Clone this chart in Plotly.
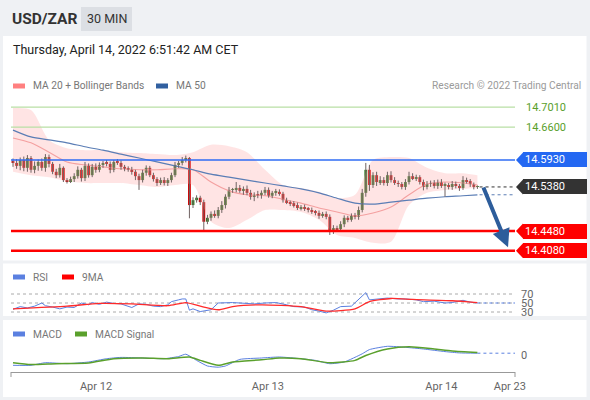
import plotly.graph_objects as go

W, H = 590, 400
FONT = "Roboto, Arial, sans-serif"

# ---------------- data ----------------
first_open = 14.590
close = [
    14.587, 14.581, 14.593, 14.577, 14.597, 14.573, 14.581, 14.589, 14.577, 14.599,
    14.585, 14.569, 14.562, 14.577, 14.552, 14.550, 14.554, 14.560, 14.573, 14.556,
    14.581, 14.562, 14.579, 14.573, 14.583, 14.587, 14.585, 14.573, 14.589, 14.587,
    14.579, 14.575, 14.573, 14.569, 14.560, 14.552, 14.567, 14.577, 14.562, 14.554,
    14.546, 14.552, 14.546, 14.552, 14.562, 14.583, 14.587, 14.593, 14.597, 14.501,
    14.511, 14.516, 14.507, 14.467, 14.475, 14.483, 14.479, 14.491, 14.501, 14.518,
    14.532, 14.532, 14.536, 14.530, 14.534, 14.526, 14.518, 14.522, 14.520, 14.526,
    14.532, 14.520, 14.526, 14.528, 14.524, 14.511, 14.507, 14.505, 14.501, 14.495,
    14.497, 14.493, 14.491, 14.487, 14.485, 14.479, 14.483, 14.477, 14.448, 14.454,
    14.452, 14.462, 14.475, 14.471, 14.479, 14.477, 14.491, 14.526, 14.573, 14.542,
    14.562, 14.548, 14.552, 14.546, 14.562, 14.552, 14.546, 14.544, 14.538, 14.548,
    14.560, 14.556, 14.558, 14.548, 14.538, 14.544, 14.546, 14.540, 14.548, 14.540,
    14.542, 14.538, 14.544, 14.540, 14.536, 14.552, 14.550, 14.544, 14.538, 14.538,
]
# wick lengths above / below the candle body, in thousandths of a rand
wick_up_milli = [
    6, 8, 5, 7, 6, 4, 9, 5, 7, 6,
    5, 4, 6, 8, 3, 4, 5, 6, 7, 4,
    8, 5, 6, 7, 5, 4, 6, 5, 4, 6,
    5, 4, 5, 6, 4, 5, 6, 5, 4, 5,
    4, 5, 6, 4, 5, 6, 4, 6, 5, 2,
    6, 5, 4, 5, 6, 5, 7, 6, 8, 5,
    6, 4, 12, 6, 5, 7, 6, 5, 8, 5,
    6, 5, 4, 6, 5, 4, 5, 3, 4, 5,
    4, 5, 4, 5, 4, 5, 4, 5, 5, 6,
    5, 6, 5, 4, 5, 6, 7, 8, 14, 10,
    6, 7, 8, 6, 7, 8, 6, 5, 4, 6,
    9, 6, 5, 4, 5, 6, 5, 6, 5, 6,
    5, 4, 6, 5, 4, 8, 5, 4, 3, 3,
]
wick_dn_milli = [
    8, 6, 9, 7, 8, 6, 7, 10, 6, 8,
    7, 5, 6, 5, 4, 5, 4, 6, 5, 7,
    6, 5, 4, 6, 5, 6, 5, 7, 5, 4,
    6, 5, 4, 6, 8, 20, 5, 6, 4, 5,
    6, 4, 5, 6, 5, 4, 6, 5, 5, 27,
    6, 5, 6, 20, 5, 6, 4, 5, 6, 7,
    5, 6, 5, 4, 8, 5, 6, 9, 5, 6,
    5, 4, 5, 6, 4, 5, 4, 6, 5, 4,
    5, 4, 5, 4, 5, 6, 4, 5, 8, 6,
    5, 4, 6, 5, 4, 5, 6, 5, 8, 12,
    6, 8, 6, 5, 6, 5, 4, 6, 5, 6,
    5, 4, 6, 5, 7, 5, 6, 5, 6, 4,
    22, 5, 6, 5, 6, 4, 5, 6, 5, 4,
]

band_idx = [0, 5, 10, 15, 20, 25, 30, 35, 40, 45, 50, 55, 60, 65, 70, 75, 80, 85, 90,
            95, 100, 105, 110, 115, 120, 125, 129]
bb_upper = [14.699, 14.695, 14.634, 14.617, 14.613, 14.613, 14.609, 14.607, 14.605, 14.603,
            14.609, 14.624, 14.621, 14.609, 14.573, 14.542, 14.536, 14.528, 14.515, 14.522,
            14.593, 14.599, 14.597, 14.577, 14.566, 14.566, 14.562]
bb_lower = [14.569, 14.562, 14.558, 14.550, 14.546, 14.546, 14.546, 14.542, 14.538, 14.542,
            14.542, 14.467, 14.454, 14.471, 14.491, 14.491, 14.487, 14.471, 14.440, 14.434,
            14.424, 14.426, 14.501, 14.526, 14.532, 14.534, 14.536]
ma20 = [14.638, 14.628, 14.609, 14.589, 14.583, 14.579, 14.575, 14.573, 14.573, 14.575,
        14.573, 14.548, 14.530, 14.522, 14.520, 14.513, 14.505, 14.495, 14.487, 14.479,
        14.485, 14.497, 14.522, 14.544, 14.548, 14.546, 14.542]
ma50 = [14.654, 14.640, 14.634, 14.628, 14.620, 14.613, 14.605, 14.597, 14.589, 14.581,
        14.573, 14.564, 14.558, 14.552, 14.546, 14.540, 14.534, 14.526, 14.515, 14.505,
        14.503, 14.507, 14.511, 14.515, 14.518, 14.520, 14.522]

rsi_idx = [0, 2, 4, 6, 8, 9, 11, 13, 15, 17, 19, 21, 22, 24, 26, 28, 30, 32, 33, 35,
           37, 39, 41, 43, 44, 46, 47, 48, 49, 50, 52, 55, 57, 61, 64, 67, 70, 73, 76, 78,
           81, 83, 85, 87, 89, 91, 94, 96, 97, 98, 99, 102, 104, 107, 109, 112, 114, 117,
           120, 122, 125, 127, 129]
rsi = [36, 42, 39, 43, 50, 44, 41, 37, 41, 40, 50, 46, 51, 47, 52, 49, 48, 43, 40, 48,
       47, 43, 42, 46, 53, 57, 59, 59, 34, 37, 31, 35, 50, 51, 50, 48, 50, 51, 46, 42,
       41, 35, 32, 28, 34, 42, 43, 57, 66, 73, 57, 59, 61, 59, 59, 57, 53, 54,
       50, 51, 56, 52, 50]
rsi_ma_idx = [0, 15, 24, 33, 43, 48, 52, 57, 61, 69, 80, 87, 95, 99, 105, 111, 122, 129]
rsi_ma = [37, 43, 49, 48, 44, 51, 43, 35, 42, 46, 42, 32, 37, 53, 60, 58, 55, 51]

macd_idx = [0, 5, 9, 15, 21, 26, 30, 36, 42, 46, 48, 51, 54, 57, 59, 63, 69, 74, 80, 84,
            88, 92, 97, 99, 104, 109, 114, 120, 124, 129]
macd = [-0.0103, -0.0103, -0.0077, -0.0087, -0.0070, -0.0037, -0.0024, -0.0030, -0.0037,
        -0.0015, 0.0008, -0.0054, -0.0110, -0.0122, -0.0110, -0.0044, -0.0030, -0.0020,
        -0.0037, -0.0054, -0.0087, -0.0070, 0.0012, 0.0054, 0.0087, 0.0077, 0.0060,
        0.0034, 0.0021, 0.0018]
sig_idx = [0, 5, 12, 21, 28, 36, 43, 49, 52, 57, 61, 69, 74, 80, 88, 95, 98, 104, 110,
           117, 122, 129]
macd_signal = [-0.0077, -0.0096, -0.0087, -0.0080, -0.0037, -0.0030, -0.0037, -0.0020,
               -0.0054, -0.0103, -0.0070, -0.0048, -0.0030, -0.0037, -0.0077, -0.0054,
               -0.0005, 0.0060, 0.0083, 0.0060, 0.0040, 0.0025]

tick_pos = [23.06, 70.8, 119.0, 138.0]
tick_text = ["Apr 12", "Apr 13", "Apr 14", "Apr 23"]

resistances = [14.7010, 14.6600]
pivot = 14.5930
last_price = 14.5380
supports = [14.4480, 14.4080]
target_from = (130.5, 14.540)
target_to = (137.5, 14.415)

# ---------------- derived ----------------
n = len(close)
idx = list(range(n))
opens = [first_open] + close[:-1]
highs = [max(o, c) + u * 0.001 for o, c, u in zip(opens, close, wick_up_milli)]
lows = [min(o, c) - d * 0.001 for o, c, d in zip(opens, close, wick_dn_milli)]


def px(x):
    return x / W


def py(y):
    return 1 - y / H


X_RANGE = [-0.556, 139.44]
Y_PRICE = [14.393, 14.7154]
PRICE_TOP, PRICE_BOT = 100, 258
Y_RSI = [21.1, 90]
Y_MACD = [-0.017, 0.015]

GREEN_C = "#2e7d1f"
RED_C = "#d40000"
WICK_C = "#6f6262"
BLUE_L = "#5b80e0"
PAGE_BG = "#eff1f4"

fig = go.Figure()

# Bollinger band
fig.add_trace(go.Scatter(x=band_idx, y=bb_upper, mode="lines", line=dict(width=0, shape="spline", smoothing=0.8),
                         hoverinfo="skip"))
fig.add_trace(go.Scatter(x=band_idx, y=bb_lower, mode="lines", line=dict(width=0, shape="spline", smoothing=0.8),
                         fill="tonexty", fillcolor="rgba(255,170,170,0.32)", hoverinfo="skip"))
fig.add_trace(go.Scatter(x=band_idx, y=ma20, mode="lines",
                         line=dict(color="#f4a0a0", width=1.1, shape="spline", smoothing=0.8)))
fig.add_trace(go.Scatter(x=band_idx, y=ma50, mode="lines",
                         line=dict(color="#5a7db5", width=1.2, shape="spline", smoothing=0.8)))

# wicks
wx, wy = [], []
for i in idx:
    wx += [i, i, None]
    wy += [lows[i], highs[i], None]
fig.add_trace(go.Scatter(x=wx, y=wy, mode="lines", line=dict(color=WICK_C, width=1), hoverinfo="skip"))

# bodies
for up, col in ((True, GREEN_C), (False, RED_C)):
    sel = [i for i in idx if (close[i] >= opens[i]) == up]
    fig.add_trace(go.Bar(
        x=sel,
        base=[min(opens[i], close[i]) for i in sel],
        y=[max(abs(close[i] - opens[i]), 0.0015) for i in sel],
        width=0.8, marker=dict(color=col, line=dict(width=0)), hoverinfo="skip"))

# RSI
fig.add_trace(go.Scatter(x=rsi_idx, y=rsi, yaxis="y2", mode="lines", line=dict(color=BLUE_L, width=1)))
fig.add_trace(go.Scatter(x=rsi_ma_idx, y=rsi_ma, yaxis="y2", mode="lines",
                         line=dict(color="#ff2a2a", width=1.3, shape="spline", smoothing=0.6)))
# MACD
fig.add_trace(go.Scatter(x=macd_idx, y=macd, yaxis="y3", mode="lines",
                         line=dict(color=BLUE_L, width=1, shape="spline", smoothing=0.5)))
fig.add_trace(go.Scatter(x=sig_idx, y=macd_signal, yaxis="y3", mode="lines",
                         line=dict(color="#5aa02c", width=1.5, shape="spline", smoothing=0.6)))

shapes = []
annotations = []

# panel backgrounds
for (y0, y1) in ((36, 260.5), (263.5, 317), (320, 397)):
    shapes.append(dict(type="rect", xref="paper", yref="paper", x0=px(3), x1=px(586.5), y0=py(y1), y1=py(y0),
                       fillcolor="white", line=dict(width=0), layer="below"))
# separator covering clipped RSI label
shapes.append(dict(type="rect", xref="paper", yref="paper", x0=0, x1=1, y0=py(320), y1=py(316),
                   fillcolor=PAGE_BG, line=dict(width=0), layer="above"))
# 30 MIN box
shapes.append(dict(type="rect", xref="paper", yref="paper", x0=px(81), x1=px(132), y0=py(31), y1=py(7),
                   fillcolor="#dcdfe4", line=dict(width=0), layer="below"))

# level lines
for r in resistances:
    shapes.append(dict(type="line", xref="paper", yref="y", x0=px(11), x1=px(515), y0=r, y1=r,
                       line=dict(color="#b9dfa5", width=1.2), layer="above"))
    annotations.append(dict(x=px(524), y=r, xref="paper", yref="y", xanchor="left", yanchor="middle",
                            text=f"{r:.4f}", showarrow=False, font=dict(size=11, color="#5aa02c", family=FONT)))
shapes.append(dict(type="line", xref="paper", yref="y", x0=px(11), x1=px(515), y0=pivot, y1=pivot,
                   line=dict(color="#2f6cf5", width=1.4), layer="above"))
for s in supports:
    shapes.append(dict(type="line", xref="paper", yref="y", x0=px(11), x1=px(515), y0=s, y1=s,
                       line=dict(color="#ff0000", width=2.5), layer="above"))

# dotted continuations
shapes.append(dict(type="line", xref="x", yref="y", x0=129.6, x1=X_RANGE[1], y0=last_price, y1=last_price,
                   line=dict(color="#333333", width=1, dash="dot"), layer="above"))
shapes.append(dict(type="line", xref="x", yref="y", x0=129.6, x1=X_RANGE[1], y0=ma50[-1], y1=ma50[-1],
                   line=dict(color="#5a7db5", width=1, dash="dot"), layer="above"))
shapes.append(dict(type="line", xref="x", yref="y2", x0=rsi_idx[-1], x1=X_RANGE[1], y0=rsi[-1], y1=rsi[-1],
                   line=dict(color=BLUE_L, width=1, dash="dot"), layer="above"))
shapes.append(dict(type="line", xref="x", yref="y3", x0=macd_idx[-1], x1=X_RANGE[1], y0=macd[-1], y1=macd[-1],
                   line=dict(color=BLUE_L, width=1, dash="dot"), layer="above"))
for lv in (30, 50, 70):
    shapes.append(dict(type="line", xref="paper", yref="y2", x0=px(11), x1=px(515), y0=lv, y1=lv,
                       line=dict(color="#aaaaaa", width=1, dash="dot"), layer="below"))

# price tag boxes
h = 7.5 * (Y_PRICE[1] - Y_PRICE[0]) / (PRICE_BOT - PRICE_TOP)
for lvl, col in ((pivot, "#2468f2"), (last_price, "#333333"), (supports[0], "#ff0000"), (supports[1], "#ff0000")):
    shapes.append(dict(type="path", xref="paper", yref="y",
                       path=f"M {px(516)},{lvl} L {px(523)},{lvl + h} L {px(523)},{lvl - h} Z",
                       fillcolor=col, line=dict(width=0), layer="above"))
    annotations.append(dict(x=px(522.5), y=lvl, xref="paper", yref="y", xanchor="left", yanchor="middle",
                            text=f"{lvl:.4f}", showarrow=False, width=60, height=11, borderpad=2, borderwidth=0,
                            bgcolor=col, align="left", font=dict(size=11, color="white", family=FONT)))

# arrow
annotations.append(dict(x=target_to[0], y=target_to[1], ax=target_from[0], ay=target_from[1],
                        xref="x", yref="y", axref="x", ayref="y", text="", showarrow=True,
                        arrowhead=2, arrowsize=0.9, arrowwidth=4, arrowcolor="#2d5d9b"))

# x-axis end ticks
for xe in (11, 515):
    shapes.append(dict(type="line", xref="paper", yref="paper", x0=px(xe), x1=px(xe), y0=py(372), y1=py(377),
                       line=dict(color="#999999", width=1), layer="above"))


# header texts
def text(x, y, s, size, color, bold=False, anchor="left"):
    annotations.append(dict(x=px(x), y=py(y), xref="paper", yref="paper", xanchor=anchor, yanchor="middle",
                            text=f"<b>{s}</b>" if bold else s, showarrow=False,
                            font=dict(size=size, color=color, family=FONT)))


text(10, 19, "USD/ZAR", 15.5, "#333333", bold=True)
text(106.5, 19, "30 MIN", 12.5, "#333333", anchor="center")
text(11, 49, "Thursday, April 14, 2022 6:51:42 AM CET", 12.5, "#222222")
text(583, 86, "Research © 2022 Trading Central", 10.2, "#9a9a9a", anchor="right")


def legend_item(x, y, col, label):
    shapes.append(dict(type="rect", xref="paper", yref="paper", x0=px(x), x1=px(x + 12), y0=py(y + 2.5),
                       y1=py(y - 2.5), fillcolor=col, line=dict(width=0)))
    text(x + 18, y, label, 10.2, "#777777")


legend_item(13, 86, "#ff8080", "MA 20 + Bollinger Bands")
legend_item(156, 86, "#3160a0", "MA 50")
legend_item(13, 277, BLUE_L, "RSI")
legend_item(62, 277, "#ff0000", "9MA")
legend_item(13, 334, BLUE_L, "MACD")
legend_item(75, 334, "#5aa02c", "MACD Signal")

fig.update_layout(
    template="none",
    width=W, height=H, autosize=False, margin=dict(l=0, r=0, t=0, b=0, pad=0),
    paper_bgcolor=PAGE_BG, plot_bgcolor="rgba(0,0,0,0)",
    showlegend=False, barmode="overlay", hovermode=False,
    font=dict(family=FONT),
    xaxis=dict(domain=[px(11), px(515)], range=X_RANGE, anchor="free", position=py(372), automargin=False,
               showline=True, linecolor="#999999", linewidth=1, showgrid=False, zeroline=False,
               ticks="", tickvals=tick_pos, ticktext=tick_text, ticklabelstandoff=4,
               tickfont=dict(size=11, color="#666666", family=FONT)),
    yaxis=dict(domain=[py(PRICE_BOT), py(PRICE_TOP)], range=Y_PRICE, visible=False, automargin=False),
    yaxis2=dict(domain=[py(316), py(285)], range=Y_RSI, anchor="free", position=px(520), side="right",
                automargin=False,
                showgrid=False, zeroline=False, showline=False, ticks="", tickvals=[30, 50, 70],
                tickfont=dict(size=11, color="#666666", family=FONT)),
    yaxis3=dict(domain=[py(372), py(340)], range=Y_MACD, anchor="free", position=px(520), side="right",
                automargin=False,
                showgrid=False, zeroline=False, showline=False, ticks="", tickvals=[0], ticktext=["0"],
                tickfont=dict(size=11, color="#666666", family=FONT)),
    shapes=shapes, annotations=annotations,
)

fig.write_html(
    "out.html",
    config={"displayModeBar": False, "responsive": False},
    post_script=(
        "var hs=document.documentElement.style;hs.margin='0';hs.padding='0';hs.overflow='hidden';"
        "hs.background='" + PAGE_BG + "';"
        "var bs=document.body.style;bs.margin='0';bs.padding='0';bs.overflow='hidden';"
        "bs.background='" + PAGE_BG + "';"
    ),
)
